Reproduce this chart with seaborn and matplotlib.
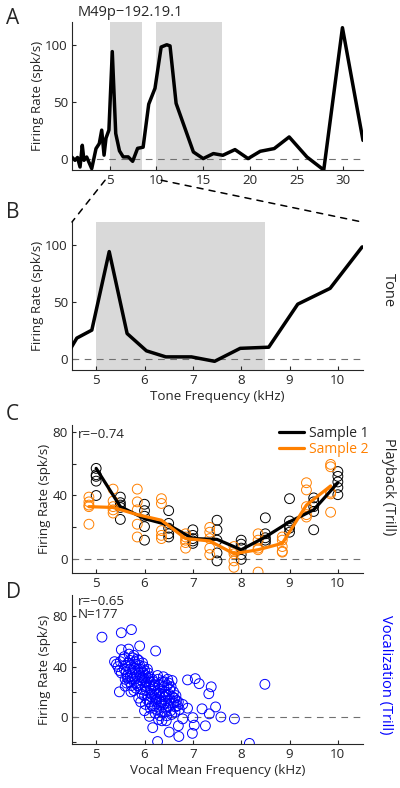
import numpy as np
import pandas as pd
import seaborn as sns
import matplotlib.pyplot as plt
from matplotlib.patches import ConnectionPatch

sns.set_style('ticks')
plt.rcParams['font.family'] = ['Open Sans', 'DejaVu Sans']
plt.rcParams['font.size'] = 9.5
plt.rcParams['axes.unicode_minus'] = True

# Panel A / B: tone tuning curve
tone_freq = [0.93, 1.28, 1.55, 1.82, 2.06, 2.24, 2.53, 3.07, 3.53, 3.88, 4.14, 4.39, 4.6,
             4.91, 5.27, 5.64, 6.04, 6.44, 6.97, 7.45, 7.98, 8.57, 9.17, 9.84, 10.5,
             11.1, 11.45, 12.1, 13.95, 15.0, 16.09, 17.1, 18.4, 19.8, 21.1, 22.6, 24.2,
             26.1, 27.9, 29.9, 32.1]
tone_rate = [1.4, -1.5, 1.0, -7.4, 11.7, -1.5, 1.4, -8.8, 8.8, 13.2, 25, 3, 18,
             25, 94, 22, 6.8, 1.5, 1.5, -2.4, 9, 10, 47.8, 61.7, 98,
             100, 99, 48.5, 5.8, 0, 4.4, 2.9, 7.9, 0, 6.4, 8.8, 19,
             1.4, -10, 115, 16]
bands_a = [(5.0, 8.5), (10.0, 17.0)]
band_b = (5.0, 8.5)

# Panel C: playback responses
freq_s1 = [5.0, 5.5, 6.0, 6.5, 7.0, 7.5, 8.0, 8.5, 9.0, 9.5, 10.0]
freq_s2 = [4.85, 5.35, 5.85, 6.35, 6.85, 7.35, 7.85, 8.35, 8.85, 9.35, 9.85]
line_s1 = [57, 33, 25.5, 21.5, 13, 12.5, 6, 14, 23.5, 31, 48]
line_s2 = [33, 32.5, 28, 24.5, 13, 11.5, 3.5, 6, 10, 34, 46]
trials_s1 = [[57, 53, 49, 40, 52], [39, 35.5, 32.5, 25, 34], [34.5, 30.5, 27, 20.5, 12],
             [30.5, 22.5, 19.5, 16, 14], [18.5, 15, 13, 11.5, 10], [24.5, 18.5, 12, 4, -1],
             [12, 9.5, 7, 3, 0], [26, 16, 13.5, 10.5, 12], [38, 24, 21, 19.5, 17],
             [38.5, 36, 30, 18.5, 33], [55, 52, 48.5, 45, 40.5]]
trials_s2 = [[39, 36, 33, 22, 34], [44, 36.5, 31, 29, 33], [44, 36, 31, 22, 14],
             [38, 35, 18, 15, 13], [16, 12, 10.5, 7, 14], [20, 17, 13, 7, 3],
             [8, 5, 3.5, -1, -5], [16, 12, 7, 6, -8], [14, 12, 8, 5, 4.5],
             [48, 43.5, 33, 28, 26.5], [59.5, 58, 42, 41, 29.5]]

# Panel D: vocalization responses
voc_freq = [5.42, 5.45, 5.5, 5.48, 5.52,
            5.56, 5.6, 5.58, 5.62, 5.64, 5.6, 5.63, 5.58, 5.66,
            5.68, 5.7, 5.72, 5.7, 5.74, 5.71, 5.69, 5.73, 5.72, 5.76,
            5.78, 5.8, 5.82, 5.79, 5.81, 5.83, 5.8, 5.84, 5.82, 5.78, 5.85, 5.86,
            5.88, 5.9, 5.92, 5.89, 5.91, 5.94, 5.9, 5.93, 5.95, 5.88, 5.96, 5.97, 5.92,
            5.98, 6.0, 6.02, 6.0, 6.03, 6.01, 6.04, 6.0, 6.05, 6.02, 6.06, 6.07,
            6.08, 6.1, 6.12, 6.1, 6.13, 6.11, 6.14, 6.1, 6.15, 6.12, 6.16, 6.18,
            6.19, 6.21, 6.2, 6.23, 6.22, 6.24, 6.2, 6.25, 6.22, 6.26, 6.27,
            6.28, 6.3, 6.32, 6.3, 6.33, 6.31, 6.34, 6.3, 6.35, 6.32, 6.36, 6.37, 6.29,
            6.39, 6.41, 6.4, 6.43, 6.42, 6.44, 6.4, 6.45, 6.42, 6.46, 6.47, 6.48,
            6.5, 6.52, 6.51, 6.53, 6.55, 6.5, 6.54, 6.56, 6.57, 6.58,
            6.6, 6.62, 6.61, 6.64, 6.63, 6.66, 6.68, 6.7, 6.72,
            5.12, 5.52, 5.73, 5.9, 6.23, 5.52, 5.67, 5.48, 5.6, 6.0, 6.1, 6.17, 6.27,
            6.51, 6.71, 6.7, 6.89, 7.05, 7.13, 7.38, 7.33, 6.89, 7.0, 7.03, 6.99, 7.26,
            7.34, 7.19, 7.47, 7.58, 7.86, 8.17, 8.49, 6.79, 6.79, 6.36, 5.38, 6.45,
            5.65, 5.75, 5.85, 5.95, 6.05, 6.15, 6.25, 6.35, 6.45, 6.55, 6.65]
voc_rate = [42, 40, 44, 37, 35,
            46, 41, 38, 36, 33, 30, 27, 48, 43,
            50, 45, 41, 38, 35, 32, 28, 25, 20, 47,
            49, 44, 42, 39, 36, 33, 30, 27, 23, 21, 46, 38,
            45, 41, 38, 35, 32, 29, 26, 22, 18, 15, 43, 35, 12,
            40, 37, 33, 30, 27, 24, 21, 17, 14, 10, 38, 31,
            35, 32, 28, 25, 22, 19, 16, 12, 9, 7, 30, 24,
            28, 25, 21, 18, 15, 12, 9, 6, 3, 20, 33,
            30, 26, 22, 19, 16, 13, 10, 7, 4, 1, 28, 18, -2,
            32, 28, 24, 20, 16, 13, 10, 7, 4, 1, 25, 30,
            27, 22, 18, 14, 11, 8, 5, 2, 29, 16,
            20, 15, 11, 8, 4, 13, 9, 12, 6,
            63.5, 67, 69.5, 56.5, 52.5, 53.5, 54, 20, 24.5, 5, 0.5, -8.5, -19.5,
            -12, -15.5, -7, 29.5, 30.5, 26.5, 24, 18.5, 7, -0.5, -6.5, -13, -7,
            2.5, 6.5, 8, 0, -1.5, -21, 26, -1.5, 10, -3, 44, -3,
            31, 30, 25, 31, 28, 18, 14, 12, 18, 24, 17]

orange = '#ff8000'
blue = '#0000ff'
gray_band = '#d9d9d9'
fs = 9.6

fig = plt.figure(figsize=(4.0, 7.88), dpi=100)
L, W, H = 0.18, 0.7275, 0.1878
axA = fig.add_axes([L, 0.7843, W, H])
axB = fig.add_axes([L, 0.5305, W, H])
axC = fig.add_axes([L, 0.2728, W, 0.1879])
axD = fig.add_axes([L, 0.0558, W, 0.1891])


def style(ax):
    sns.despine(ax=ax)
    ax.tick_params(direction='in', length=3, width=0.8, labelsize=fs, pad=3)
    for s in ['left', 'bottom']:
        ax.spines[s].set_linewidth(0.8)
    ax.axhline(0, color='#707070', ls=(0, (6, 5)), lw=0.8, zorder=1)
    ax.set_ylabel('Firing Rate (spk/s)', fontsize=fs, labelpad=1)


tone = pd.DataFrame({'freq': tone_freq, 'rate': tone_rate})

# A
for lo, hi in bands_a:
    axA.axvspan(lo, hi, color=gray_band, lw=0, zorder=0)
sns.lineplot(data=tone, x='freq', y='rate', ax=axA, color='black', lw=2.5,
             estimator=None, sort=False, zorder=3)
axA.set_xlim(0.96, 32.1)
axA.set_ylim(-10, 120)
axA.set_xticks([5, 10, 15, 20, 25, 30])
axA.set_yticks([0, 50, 100])
style(axA)
axA.set_xlabel('')
axA.text(0.02, 1.015, 'M49p\u2212192.19.1', transform=axA.transAxes, fontsize=10.5,
         ha='left', va='bottom')

# B
axB.axvspan(*band_b, color=gray_band, lw=0, zorder=0)
sns.lineplot(data=tone, x='freq', y='rate', ax=axB, color='black', lw=2.5,
             estimator=None, sort=False, zorder=3)
axB.set_xlim(4.5, 10.52)
axB.set_ylim(-10, 120)
axB.set_xticks([5, 6, 7, 8, 9, 10])
axB.set_yticks([0, 50, 100])
style(axB)
axB.set_xlabel('Tone Frequency (kHz)', fontsize=fs, labelpad=2)

# zoom connectors between A and B
for xv in [4.5, 10.5]:
    con = ConnectionPatch(xyA=(xv, -19), coordsA=axA.transData,
                          xyB=(xv, 120), coordsB=axB.transData,
                          color='black', lw=1.1, ls=(0, (4, 4)))
    fig.add_artist(con)

# C
pts1 = pd.DataFrame({'freq': np.repeat(freq_s1, 5), 'rate': np.concatenate(trials_s1)})
pts2 = pd.DataFrame({'freq': np.repeat(freq_s2, 5), 'rate': np.concatenate(trials_s2)})
sns.scatterplot(data=pts1, x='freq', y='rate', ax=axC, marker='o', s=50,
                facecolor='none', edgecolor='black', linewidth=0.7, zorder=2)
sns.scatterplot(data=pts2, x='freq', y='rate', ax=axC, marker='o', s=50,
                facecolor='none', edgecolor=orange, linewidth=0.7, zorder=2)
sns.lineplot(x=freq_s1, y=line_s1, ax=axC, color='black', lw=2.3, label='Sample 1', zorder=3)
sns.lineplot(x=freq_s2, y=line_s2, ax=axC, color=orange, lw=2.3, label='Sample 2', zorder=4)
axC.set_xlim(4.5, 10.52)
axC.set_ylim(-8.6, 84.2)
axC.set_xticks([5, 6, 7, 8, 9, 10])
axC.set_yticks([0, 20, 40, 60, 80])
axC.set_yticklabels(['0', '', '40', '', '80'])
style(axC)
axC.set_xlabel('')
leg = axC.legend(loc='upper right', frameon=False, fontsize=10, handlelength=1.8,
                 handletextpad=0.4, borderaxespad=0.0, labelspacing=0.05,
                 bbox_to_anchor=(1.04, 1.03))
leg.get_texts()[1].set_color(orange)
axC.text(0.02, 0.98, 'r=\u22120.74', transform=axC.transAxes, fontsize=fs,
         ha='left', va='top')

# D
voc = pd.DataFrame({'freq': voc_freq, 'rate': voc_rate})
sns.scatterplot(data=voc, x='freq', y='rate', ax=axD, marker='o', s=50,
                facecolor='none', edgecolor=blue, linewidth=0.7, zorder=2)
axD.set_xlim(4.5, 10.52)
axD.set_ylim(-21.5, 97)
axD.set_xticks([5, 6, 7, 8, 9, 10])
axD.set_yticks([-20, 0, 20, 40, 60, 80])
axD.set_yticklabels(['', '0', '', '40', '', '80'])
style(axD)
axD.set_xlabel('Vocal Mean Frequency (kHz)', fontsize=fs, labelpad=2)
axD.text(0.02, 1.0, 'r=\u22120.65\nN=177', transform=axD.transAxes, fontsize=fs,
         ha='left', va='top', linespacing=1.0)

# row labels on the right
fig.text(0.972, 1 - 290 / 788, 'Tone', rotation=-90, fontsize=10.5, ha='center', va='center')
fig.text(0.972, 1 - 487 / 788, 'Playback (Trill)', rotation=-90, fontsize=10.5,
         ha='center', va='center')
fig.text(0.963, 1 - 675 / 788, 'Vocalization (Trill)', rotation=-90, fontsize=10.5,
         ha='center', va='center', color=blue)

# panel letters
for lab, yp in [('A', 18), ('B', 213), ('C', 415), ('D', 593)]:
    fig.text(0.015, 1 - yp / 788, lab, fontsize=15, ha='left', va='center')

fig.savefig('out.png', dpi=100)
